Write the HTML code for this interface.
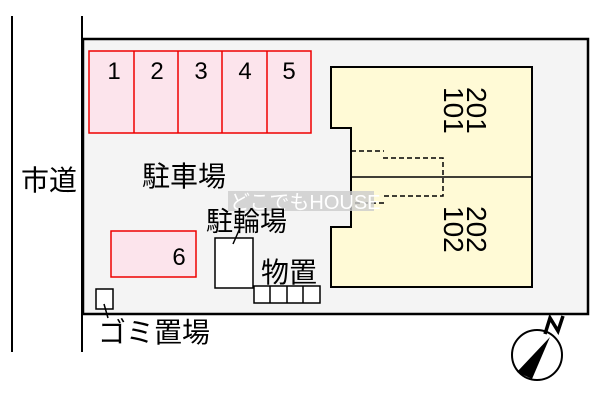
<!DOCTYPE html>
<html><head><meta charset="utf-8"><style>
body{margin:0;background:#fff;width:600px;height:400px;overflow:hidden}
</style></head><body>
<svg width="600" height="400" viewBox="0 0 600 400" xmlns="http://www.w3.org/2000/svg" font-family="'Liberation Sans','Noto Sans CJK JP',sans-serif">
<line x1="12" y1="16" x2="12" y2="352" stroke="#000" stroke-width="2"/>
<line x1="82" y1="16" x2="82" y2="352" stroke="#000" stroke-width="2"/>
<rect x="83" y="39" width="505" height="275" fill="#f4f4f4" stroke="#000" stroke-width="2.5"/>
<g fill="#fce4ec" stroke="#e00" stroke-width="1.5">
<rect x="89" y="51" width="222" height="82"/>
<line x1="134" y1="51" x2="134" y2="133"/><line x1="178" y1="51" x2="178" y2="133"/>
<line x1="222" y1="51" x2="222" y2="133"/><line x1="267" y1="51" x2="267" y2="133"/>
<rect x="111" y="231" width="85" height="46"/>
</g>
<g font-size="24" fill="#000" text-anchor="middle">
<text x="114" y="79">1</text><text x="157" y="79">2</text><text x="201" y="79">3</text><text x="245" y="79">4</text><text x="289" y="79">5</text>
<text x="179" y="265">6</text>
</g>
<path d="M331 67H532V287H331V227H351V128H331Z" fill="#fffad6" stroke="#000" stroke-width="2"/>
<line x1="351" y1="177" x2="532" y2="177" stroke="#000" stroke-width="1.5"/>
<g fill="none" stroke="#000" stroke-width="1.5" stroke-dasharray="5,3">
<path d="M351 151H384M383 158H443V196H383M384 203H351"/>
</g>
<g font-size="28" fill="#000">
<text transform="translate(467,87) rotate(90)">201</text>
<text transform="translate(444,87) rotate(90)">101</text>
<text transform="translate(467,206) rotate(90)">202</text>
<text transform="translate(444,206) rotate(90)">102</text>
</g>
<rect x="228" y="191" width="146" height="20" fill="#ccc" opacity="0.8"/>
<text x="230" y="209" font-size="20" fill="#fff">どこでもHOUSE</text>
<text x="21" y="190" font-size="28">市道</text>
<text x="142" y="186" font-size="28">駐車場</text>
<text x="206" y="231" font-size="27">駐輪場</text>
<text x="261" y="282" font-size="28">物置</text>
<text x="98" y="342" font-size="28">ゴミ置場</text>
<g fill="#fff" stroke="#000" stroke-width="1.5">
<rect x="215" y="238" width="38" height="50"/>
<rect x="254" y="286" width="66" height="17"/>
<rect x="96" y="289" width="17" height="20"/>
</g>
<g stroke="#000" stroke-width="1.5">
<line x1="270" y1="286" x2="270" y2="303"/><line x1="287" y1="286" x2="287" y2="303"/><line x1="303" y1="286" x2="303" y2="303"/>
<line x1="233" y1="244" x2="240" y2="228"/>
<line x1="104" y1="304" x2="108" y2="318"/>
</g>
<circle cx="537" cy="355" r="25" fill="#fff" stroke="#000" stroke-width="2"/>
<path d="M550 337L517 372L532 379Z" fill="#000"/>
<path d="M545 334L550 318L558 331L563 316" fill="none" stroke="#000" stroke-width="3.5" stroke-linejoin="miter"/>
</svg>
</body></html>
